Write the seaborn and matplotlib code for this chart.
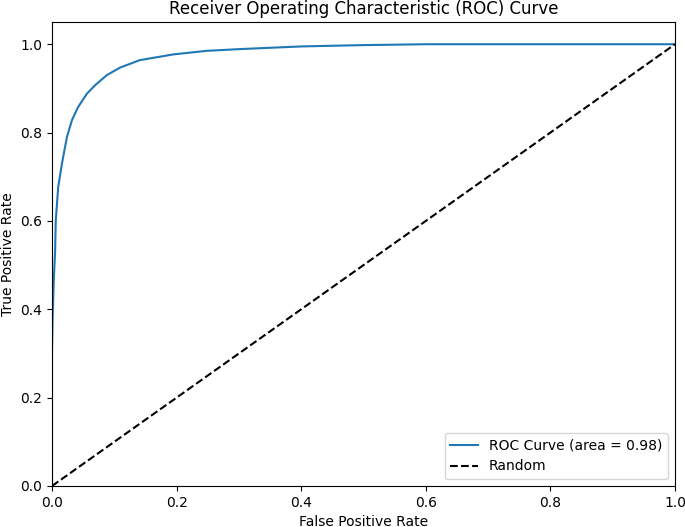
"""ROC curve for a binary classifier, with the random-guess diagonal."""

import matplotlib

matplotlib.use("Agg")
import matplotlib.pyplot as plt
import pandas as pd
import seaborn as sns

# values
fpr = [0.0, 0.0, 0.001, 0.003, 0.005, 0.006, 0.010, 0.016, 0.024, 0.032, 0.042,
       0.056, 0.069, 0.088, 0.109, 0.141, 0.195, 0.248, 0.302, 0.400, 0.500,
       0.600, 0.800, 1.0]
tpr = [0.0, 0.30, 0.38, 0.47, 0.53, 0.60, 0.677, 0.730, 0.790, 0.828, 0.858,
       0.888, 0.907, 0.930, 0.947, 0.964, 0.977, 0.985, 0.989, 0.995, 0.998,
       1.0, 1.0, 1.0]
roc_auc = 0.98
diag = [0.0, 1.0]


def main() -> None:
    roc_df = pd.DataFrame({"fpr": fpr, "tpr": tpr})
    diag_df = pd.DataFrame({"x": diag, "y": diag})

    fig, ax = plt.subplots(figsize=(6.85, 5.27), dpi=100)
    fig.subplots_adjust(left=0.0759, right=0.9854, bottom=0.0778, top=0.958)

    sns.lineplot(data=roc_df, x="fpr", y="tpr", sort=False, estimator=None,
                 color="tab:blue", linewidth=1.5,
                 label=f"ROC Curve (area = {roc_auc:.2f})", ax=ax)
    sns.lineplot(data=diag_df, x="x", y="y", sort=False, estimator=None,
                 color="black", linestyle="--", linewidth=1.5,
                 label="Random", ax=ax)

    ax.set_xlim(0.0, 1.0)
    ax.set_ylim(0.0, 1.05)
    ax.set_xlabel("False Positive Rate")
    ax.set_ylabel("True Positive Rate")
    ax.set_title("Receiver Operating Characteristic (ROC) Curve")
    ax.legend(loc="lower right")

    fig.savefig("out.png", dpi=100)
    plt.close(fig)


if __name__ == "__main__":
    main()
